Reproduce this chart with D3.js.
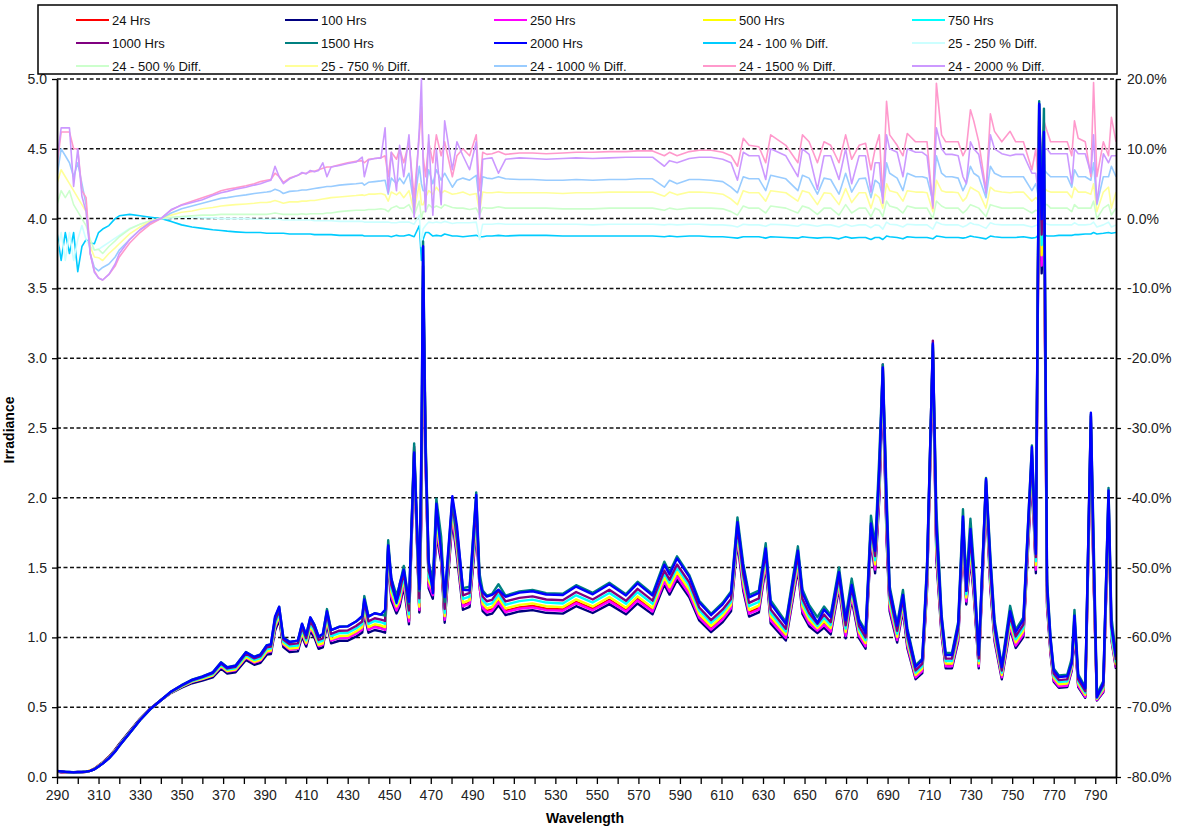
<!DOCTYPE html>
<html>
<head>
<meta charset="utf-8">
<script src="https://cdn.jsdelivr.net/npm/d3@7"></script>
<style>
  body { margin: 0; background: #fff; }
  text { font-family: "Liberation Sans", Arial, sans-serif; }
</style>
</head>
<body>
<div id="chart"></div>
<script>
// wavelength grid (nm)
const wavelength = [
  290,292,294,296,298,300,302,304,306,308,
  310,312,315,318,320,325,330,335,340,345,
  350,355,360,365,369,372,376,381,385,388,
  391,393,395,397,399,402,406,408,410,412,
  414,416,418,420,422,426,430,434,437,438,
  440,443,446,448,449.5,451,453.5,455,457,459.5,
  462,464.5,465.5,466.3,467.5,469,471,472.7,475,476.7,
  480.4,482.6,485.5,488.7,491.9,493.5,495,497,499.5,502.6,
  506,512.7,519,525.6,533.6,540,548,556,564,569.6,
  576.8,582.5,585,588.6,594.5,599.3,605,610.6,614.6,617.7,
  620.5,623.3,628,631.3,633.7,641,646.8,649,652.2,656.2,
  659.4,662.6,666.6,669.8,672.7,676.3,679.4,682,684,686,
  687.7,689.5,691,694.6,697.4,699.5,703.5,706.7,709,711.8,
  713.5,716,718,721,724,726.3,727.9,729.9,731.5,733.9,
  737.4,739.5,741.5,745,749,751.7,755.4,759.5,761.4,763,
  764.2,765.3,766.8,768.5,770,772.5,776.5,778.7,780,781.8,
  785.2,787.9,789.2,790.8,793.9,796.4,797.8,800
];

// 24 Hrs irradiance
const hrs24 = [
  0.040,0.036,0.033,0.032,0.032,0.033,0.035,0.038,0.046,0.060,
  0.082,0.105,0.145,0.195,0.235,0.325,0.415,0.49,0.55,0.605,
  0.645,0.68,0.70,0.725,0.79,0.755,0.765,0.855,0.82,0.835,
  0.895,0.90,1.07,1.15,0.95,0.915,0.92,1.03,0.955,1.07,
  1.02,0.94,0.95,1.12,0.98,1.00,1.00,1.03,1.06,1.20,
  1.06,1.08,1.07,1.06,1.60,1.30,1.20,1.25,1.40,1.12,
  2.32,1.19,2.0,3.52,2.3,1.38,1.31,1.78,1.58,1.13,
  1.88,1.62,1.23,1.25,1.82,1.40,1.22,1.19,1.20,1.26,
  1.19,1.215,1.225,1.205,1.20,1.255,1.205,1.27,1.195,1.275,
  1.195,1.415,1.34,1.45,1.32,1.15,1.065,1.14,1.22,1.73,
  1.37,1.18,1.21,1.55,1.13,1.005,1.53,1.20,1.11,1.06,
  1.10,1.05,1.39,1.02,1.31,1.02,0.945,1.75,1.50,2.05,
  2.87,1.75,1.22,0.99,1.23,0.95,0.72,0.765,1.38,3.05,
  1.60,1.04,0.80,0.80,1.00,1.76,1.27,1.60,1.34,0.80,
  2.06,1.38,1.00,0.72,1.09,0.95,1.03,2.22,1.50,4.70,
  3.70,4.20,1.25,0.90,0.70,0.655,0.66,0.78,1.05,0.66,
  0.58,2.45,1.45,0.56,0.62,1.90,1.00,0.79
];

// % differences against 24 Hrs (right axis)
const diff100 = [
  -2,-6,-2,-5,-2,-7.6,-4,-3,-3.5,-3.6,
  -2,-1.5,-1,0,0.4,0.6,0.4,0.2,0,-0.4,
  -0.9,-1.2,-1.4,-1.6,-1.7,-1.8,-1.9,-2,-2,-2,
  -2.1,-2.1,-2.1,-2.1,-2.1,-2.2,-2.2,-2.2,-2.2,-2.2,
  -2.3,-2.3,-2.3,-2.3,-2.3,-2.4,-2.4,-2.4,-2.4,-2.5,
  -2.5,-2.5,-2.5,-2.5,-2.5,-2.6,-2.4,-2.5,-2.5,-2.3,
  -2.6,-1,-6,-3,-2,-2,-2.5,-2.4,-2.5,-2.2,
  -2.5,-2.5,-2.6,-2.5,-2.4,-2.6,-2.6,-2.5,-2.5,-2.4,
  -2.5,-2.4,-2.4,-2.4,-2.5,-2.5,-2.5,-2.5,-2.5,-2.5,
  -2.5,-2.6,-2.5,-2.6,-2.5,-2.5,-2.6,-2.6,-2.7,-2.8,
  -2.6,-2.6,-2.6,-2.8,-2.6,-2.7,-2.8,-2.6,-2.7,-2.8,
  -2.7,-2.7,-2.9,-2.6,-2.8,-2.7,-2.7,-3,-2.7,-2.7,
  -3,-2.5,-2.6,-2.7,-2.9,-2.6,-2.7,-2.7,-2.7,-2.9,
  -2.5,-2.6,-2.7,-2.7,-2.7,-2.8,-2.7,-2.5,-2.6,-2.7,
  -2.9,-2.5,-2.6,-2.7,-2.7,-2.7,-2.6,-2.8,-2.7,-2.3,
  -2.5,-2.3,-2.5,-2.5,-2.5,-2.4,-2.4,-2.4,-2.3,-2.3,
  -2.2,-2.2,-2,-2.2,-2.1,-2,-2.1,-2
];
const diff250 = [
  -5,-2,-6,-2,-6,-3,-1,-3,-4,-4.5,
  -4.4,-4,-3.4,-2.8,-2.4,-1.4,-0.8,-0.3,0,0.1,
  0.2,0.2,0.1,0.1,0,0,0,0,-0.1,-0.1,
  -0.1,-0.1,-0.1,-0.1,-0.2,-0.2,-0.2,-0.2,-0.2,-0.2,
  -0.3,-0.3,-0.3,-0.3,-0.3,-0.4,-0.4,-0.4,-0.4,-0.5,
  -0.5,-0.5,-0.5,-0.5,-0.5,-0.6,-0.6,-0.5,-0.5,-0.5,
  -0.8,0.5,-4,-1.5,-1,-0.5,-0.6,-0.5,-0.6,-0.4,
  -0.7,-0.6,-0.6,-0.6,-0.5,-3,-0.8,-0.8,-0.8,-0.7,
  -0.8,-0.8,-0.8,-0.8,-0.8,-0.8,-0.9,-0.8,-0.8,-0.8,
  -0.8,-0.9,-0.8,-0.9,-0.8,-0.8,-0.9,-0.9,-1,-1.2,
  -0.8,-0.9,-0.9,-1.1,-0.8,-0.9,-1.1,-0.8,-0.9,-1.1,
  -0.9,-0.9,-1.2,-0.8,-1.1,-0.9,-0.9,-1.3,-0.9,-1,
  -1.5,-0.5,-0.8,-0.9,-1.2,-0.8,-0.9,-0.9,-0.9,-1.5,
  -0.5,-0.8,-0.9,-0.9,-0.9,-1.2,-1,-0.6,-0.8,-0.9,
  -1.4,-0.6,-0.8,-0.9,-0.9,-0.9,-0.9,-1.2,-1,-0.8,
  -1,-0.5,-0.8,-0.9,-0.9,-0.9,-0.9,-0.9,-0.6,-0.9,
  -0.9,-0.8,-0.5,-1.2,-0.9,-0.5,-1.2,-0.9
];
const diff500 = [
  2,4,3,4,2,1,0,-1,-3,-4.5,
  -4.4,-5,-4,-3.2,-2.6,-1.5,-0.8,-0.3,0,0.2,
  0.3,0.4,0.5,0.5,0.6,0.6,0.6,0.6,0.6,0.6,
  0.6,0.7,0.8,0.7,0.6,0.6,0.6,0.7,0.6,0.7,
  0.7,0.7,0.7,0.8,0.8,1,1.1,1.2,1.2,1.2,
  1.3,1.3,1.4,1.3,1,1.5,1.8,1.5,1.5,2,
  0.5,2.5,0,1,1,2,1.5,1.8,1.5,2,
  1.6,1.5,1.5,1.3,1.5,0.5,1.6,1.5,1.5,1.7,
  1.5,1.5,1.5,1.5,1.4,1.4,1.4,1.5,1.5,1.5,
  1.5,1.2,1.5,1.3,1.5,1.5,1.5,1.4,1,0.5,
  1.8,1.5,1.5,0.8,1.8,1.5,0.8,1.8,1.5,0.6,
  1.5,1.5,0.5,2,0.8,1.5,1.5,0.3,1.5,1.2,
  0.3,2.5,1.8,1.5,0.8,1.8,1.5,1.5,1.5,0,
  2.5,1.8,1.5,1.5,1.5,0.8,1.2,2,1.8,1.5,
  0.3,2,1.8,1.5,1.5,1.5,1.5,0.8,1.2,1,
  1,2,2,1.5,1.5,1.5,1.5,1,2,1.5,
  1.5,1.5,2.5,0,1.5,2,0.5,1.5
];
const diff750 = [
  5,7,6,5,4,3,2,1,-4,-5.5,
  -5.6,-6,-5,-4.2,-3.6,-2.2,-1.2,-0.4,0,0.5,
  0.9,1.1,1.4,1.6,1.8,1.9,2,2.1,2.2,2.3,
  2.3,2.4,2.6,2.4,2.2,2.4,2.4,2.5,2.5,2.6,
  2.6,2.7,2.8,2.9,3,3.1,3.2,3.3,3.4,3.3,
  3.5,3.5,3.6,3.4,2.5,3.8,3.4,3.8,3,4,
  1,5,2,2,3,4,3.5,4.5,3.6,4,
  3.5,3.6,3.8,3.4,3.6,1,3.8,3.7,3.7,3.8,
  3.7,3.7,3.7,3.7,3.6,3.7,3.7,3.8,3.8,3.8,
  3.8,3.2,3.8,3.4,3.8,3.8,3.7,3.5,2.8,2,
  4,3.7,3.7,2.5,4,3.7,2.5,4,3.7,2,
  3.7,3.6,2,4.3,2.3,3.7,3.7,1.5,3.5,3,
  1.5,5,4,3.7,2.5,4,3.8,3.8,3.7,1,
  5.5,4,3.8,3.8,3.7,2.5,3,4.5,4.2,3.8,
  1.5,4.5,4,3.8,3.7,3.8,3.8,2.5,3,2.5,
  3,4.5,4,3.8,3.8,3.8,3.8,3,4.5,3.8,
  3.8,3.5,5,1,3.8,4.5,1.5,3.8
];
const diff1000 = [
  6,10,9,8,6,8,5,2,-5,-7,
  -7.5,-7,-6.5,-5.5,-4.5,-3,-1.6,-0.6,0,0.8,
  1.4,1.8,2.2,2.6,2.9,3,3.2,3.4,3.6,3.7,
  3.8,3.9,4.2,4,3.6,3.9,4,4.1,4.1,4.2,
  4.3,4.4,4.5,4.6,4.6,4.8,4.9,5,5.1,4.8,
  5.2,5.3,5.4,5.5,3.5,5.8,5,5.8,5,6.5,
  2,7.5,5,4,4,7,5,7,5.5,6.5,
  4.5,5.5,5.8,5.5,6.2,2,6,5.8,5.7,6,
  5.7,5.6,5.6,5.5,5.5,5.6,5.5,5.6,5.6,5.7,
  5.7,4.5,5.5,5,5.6,5.6,5.5,5.3,4.5,3.7,
  6,5.7,5.7,4,6.2,5.7,4,6.2,5.8,3.5,
  5.8,5.6,3.5,6.5,3.8,5.7,5.8,3,5.5,5,
  3,8,6.5,5.8,4,6.5,6,6,5.8,2.5,
  9,6.5,6,6,5.8,4,5,7.5,6.5,6,
  3,7.5,6.5,6,6,6,6,4,5,2.5,
  5,7,6.5,6,6,6,6,4.5,7,6,
  6,5.5,8,2,6,6,7.5,6
];
const diff1500 = [
  7.6,12.4,12.4,12.4,10,10,4,3,-5,-7.5,
  -8.5,-8.8,-8,-6.8,-5.5,-3.5,-2,-0.8,0,1.2,
  2,2.5,3,3.5,4,4.2,4.4,4.7,5,5.3,
  5.5,5.6,6.5,6,5.2,5.8,6.2,6.5,6.5,6.7,
  6.8,7,7.2,7.4,7.4,7.7,8,8.2,8.3,8,
  8.5,8.6,8.7,9,6,9.5,8.5,10,8,11,
  3,12,16,9,6,11,8,12,9,11,
  6,9,10,9,12,4,9.5,9.2,9.3,9.6,
  9.2,9.4,9.4,9.3,9.4,9.5,9.5,9.6,9.6,9.7,
  9.7,9,9.5,9,9.6,9.8,9.8,9.5,9,7.5,
  11.5,10.5,10.3,8,12,10.5,8,12,11,8,
  11,10.5,8,12,8.5,10.5,10.8,7,10,12,
  3,16.8,12,10.5,9,12.2,11,11,11,1.5,
  19.4,12,11,11,11,9,10,15.6,14,11,
  4,15,12.5,11,12.5,11,11,7,10,3,
  10,14,12.5,11,11,11,11,9,14,11.5,
  11,6,19.5,6,11,9,14.5,11
];
const diff2000 = [
  8.5,13,13,13,4.6,10,3.2,1,-5,-7.7,
  -8.5,-8.8,-8,-6.5,-5,-3,-1.6,-0.5,0,1.3,
  1.9,2.3,2.7,3.3,3.7,3.9,4.2,4.5,4.8,5,
  5.3,5.5,7.5,6,5,5.7,6.2,6.6,6.4,6.9,
  6.7,6.9,8,6,7.4,7.6,7.9,8.1,8.8,6,
  8.4,8.6,8.7,13,3.7,9.5,4,10.5,6,12,
  0.2,13,20,8,1,12,0.5,10,2,14,
  7,11,9,7,11,0,8.5,8.6,8.7,6.5,
  8.5,8.7,8.6,8.5,8.6,8.7,8.6,8.7,8.8,8.8,
  8.8,7.5,8.3,8,8.6,8.8,8.8,8.5,8,5.5,
  9.5,9,9,5.6,10,9,6,10,9.2,4.2,
  9,9,5.6,10,5,9,9,3.8,8,8,
  2.2,12,10,9.5,6,10,9.5,9.5,9,1.8,
  13,10,9.2,9.2,9,6,5,11,10,9.2,
  3.6,12,10,9.3,9,9.2,9.2,6.5,6.5,2.6,
  8,10,10,9.3,9.3,9.3,9.3,5,10,9.3,
  9.3,6.5,12,2.2,9.3,8,9,9
];

const hoursNames = ["24 Hrs", "100 Hrs", "250 Hrs", "500 Hrs", "750 Hrs", "1000 Hrs", "1500 Hrs", "2000 Hrs"];
const hoursColors = ["#ff0000", "#000080", "#ff00ff", "#ffff00", "#00ffff", "#800080", "#008080", "#0000ff"];
const diffNames = ["24 - 100 % Diff.", "25 - 250 % Diff.", "24 - 500 % Diff.", "25 - 750 % Diff.", "24 - 1000 % Diff.", "24 - 1500 % Diff.", "24 - 2000 % Diff."];
const diffColors = ["#00ccff", "#ccffff", "#ccffcc", "#ffff99", "#99ccff", "#ff99cc", "#cc99ff"];
const diffValues = [diff100, diff250, diff500, diff750, diff1000, diff1500, diff2000];

const leftTicks = [0, 0.5, 1, 1.5, 2, 2.5, 3, 3.5, 4, 4.5, 5];
const rightTicks = [-80, -70, -60, -50, -40, -30, -20, -10, 0, 10, 20];
const xTicks = d3.range(290, 801, 10);

// each later reading is the 24 Hrs reading shifted by its plotted % difference
const hoursValues = [hrs24].concat(diffValues.map(dv => hrs24.map((v, i) => v * (1 + dv[i] / 100))));

const width = 1197, height = 829;
const plot = { left: 57, right: 1116, top: 79, bottom: 777 };

const svg = d3.select("#chart").append("svg").attr("width", width).attr("height", height);

const xScale = d3.scaleLinear().domain([290, 800]).range([plot.left, plot.right]);
const yScale = d3.scaleLinear().domain([0, 5]).range([plot.bottom, plot.top]);
const y2Scale = d3.scaleLinear().domain([-80, 20]).range([plot.bottom, plot.top]);

svg.append("clipPath").attr("id", "clip")
    .append("rect")
    .attr("x", plot.left).attr("y", plot.top - 2)
    .attr("width", plot.right - plot.left).attr("height", plot.bottom - plot.top + 2);

// dashed gridlines
svg.append("g").selectAll("line")
    .data(leftTicks.filter(d => d > 0))
    .join("line")
    .attr("x1", plot.left).attr("x2", plot.right)
    .attr("y1", d => yScale(d)).attr("y2", d => yScale(d))
    .attr("stroke", "#111")
    .attr("stroke-width", 1.5)
    .attr("stroke-dasharray", "4,2.5");

const lineG = svg.append("g").attr("clip-path", "url(#clip)");

// % difference lines on the right axis
diffValues.forEach((dv, k) => {
    const line = d3.line().x((d, i) => xScale(wavelength[i])).y(d => y2Scale(d));
    lineG.append("path")
        .attr("d", line(dv))
        .attr("fill", "none")
        .attr("stroke", diffColors[k])
        .attr("stroke-width", 1.6)
        .attr("stroke-linejoin", "round");
});

// irradiance lines on the left axis
hoursValues.forEach((hv, k) => {
    const line = d3.line().x((d, i) => xScale(wavelength[i])).y(d => yScale(d));
    lineG.append("path")
        .attr("d", line(hv))
        .attr("fill", "none")
        .attr("stroke", hoursColors[k])
        .attr("stroke-width", 2.4)
        .attr("stroke-linejoin", "round");
});

// axes
const xAxis = d3.axisBottom(xScale).tickValues(xTicks).tickSize(7).tickSizeOuter(0)
    .tickFormat(d => (d - 290) % 20 === 0 && d < 800 ? d : "");
const yAxis = d3.axisLeft(yScale).tickValues(leftTicks).tickSize(5).tickSizeOuter(0).tickFormat(d3.format(".1f"));
const y2Axis = d3.axisRight(y2Scale).tickValues(rightTicks).tickSize(5).tickSizeOuter(0).tickFormat(d => d.toFixed(1) + "%");

const gx = svg.append("g").attr("transform", `translate(0,${plot.bottom})`).call(xAxis);
const gy = svg.append("g").attr("transform", `translate(${plot.left},0)`).call(yAxis);
const gy2 = svg.append("g").attr("transform", `translate(${plot.right},0)`).call(y2Axis);

[gx, gy, gy2].forEach(g => {
    g.select(".domain").attr("stroke", "#000").attr("stroke-width", 1.8);
    g.selectAll(".tick line").attr("stroke", "#000").attr("stroke-width", 1.3);
    g.selectAll(".tick text").attr("font-size", 14).attr("fill", "#222")
        .attr("font-family", "'Liberation Sans', Arial, sans-serif");
});
gx.selectAll(".tick text").attr("dy", "0.95em");
gy.selectAll(".tick text").attr("x", -10);
gy2.selectAll(".tick text").attr("x", 11);

// axis titles
svg.append("text")
    .attr("x", 585).attr("y", 823)
    .attr("text-anchor", "middle")
    .attr("font-size", 14).attr("font-weight", 700)
    .text("Wavelength");

svg.append("text")
    .attr("transform", "translate(14,430) rotate(-90)")
    .attr("text-anchor", "middle")
    .attr("font-size", 14).attr("font-weight", 700)
    .text("Irradiance");

// legend
const legendItems = hoursNames.map((n, i) => ({ name: n, color: hoursColors[i] }))
    .concat(diffNames.map((n, i) => ({ name: n, color: diffColors[i] })));

const legendG = svg.append("g");
legendG.append("rect")
    .attr("x", 38).attr("y", 5)
    .attr("width", 1079).attr("height", 69)
    .attr("fill", "#fff")
    .attr("stroke", "#000").attr("stroke-width", 1.5);

const itemG = legendG.selectAll("g.item")
    .data(legendItems)
    .join("g")
    .attr("class", "item")
    .attr("transform", (d, i) => `translate(${112 + (i % 5) * 209},${20 + Math.floor(i / 5) * 23})`);

itemG.append("line")
    .attr("x1", -36).attr("x2", -3)
    .attr("stroke", d => d.color)
    .attr("stroke-width", 2);

itemG.append("text")
    .attr("x", 0).attr("dy", "0.35em")
    .attr("font-size", 13).attr("fill", "#111")
    .text(d => d.name);
</script>
</body>
</html>
